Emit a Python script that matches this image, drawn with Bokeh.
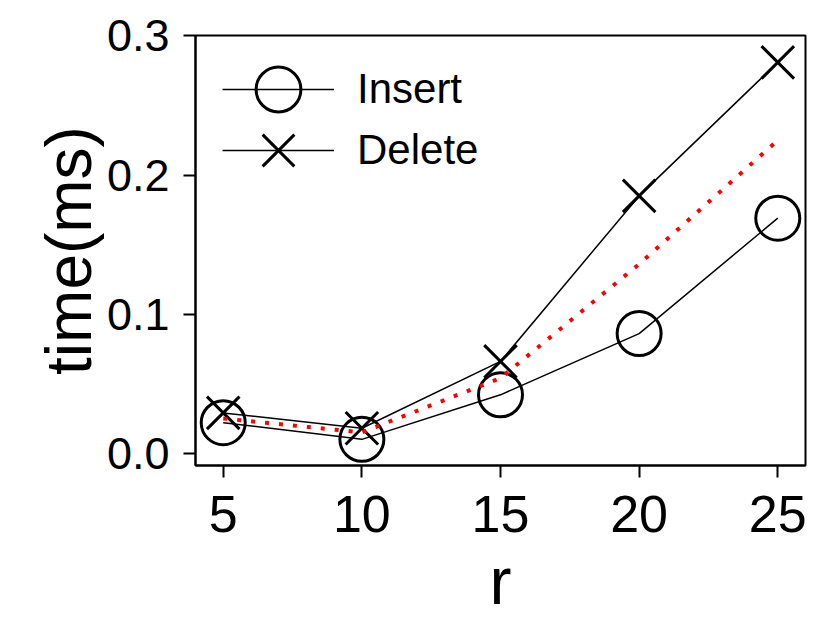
from bokeh.plotting import figure
from bokeh.models import Range1d, FixedTicker, NumeralTickFormatter, Legend, LegendItem
from bokeh.embed import file_html
from bokeh.resources import INLINE

# data
r = [5, 10, 15, 20, 25]
insert_ms = [0.022, 0.010, 0.042, 0.086, 0.169]
delete_ms = [0.029, 0.018, 0.066, 0.185, 0.281]
trend_ms = [0.025, 0.015, 0.054, 0.136, 0.225]
x_ticks = [5, 10, 15, 20, 25]
y_ticks = [0.0, 0.1, 0.2, 0.3]

FONT = "Liberation Sans"

p = figure(width=816, height=620, output_backend="svg", toolbar_location=None,
           x_range=Range1d(4, 26), y_range=Range1d(-0.0088, 0.3003),
           min_border_left=195, min_border_right=11, min_border_top=35,
           min_border_bottom=147)

p.grid.visible = False
p.background_fill_color = "white"
p.border_fill_color = "white"
p.outline_line_color = "black"
p.outline_line_width = 2

for ax in (p.xaxis[0], p.yaxis[0]):
    ax.axis_line_width = 2
    ax.major_tick_line_width = 2
    ax.major_tick_out = 12
    ax.major_tick_in = 0
    ax.minor_tick_out = 0
    ax.minor_tick_in = 0
    ax.major_label_text_font = FONT
    ax.axis_label_text_font = FONT
    ax.axis_label_text_font_style = "normal"
    ax.major_label_text_color = "black"
    ax.axis_label_text_color = "black"

p.xaxis.ticker = FixedTicker(ticks=x_ticks)
p.yaxis.ticker = FixedTicker(ticks=y_ticks)
p.yaxis.formatter = NumeralTickFormatter(format="0.0")

p.xaxis.axis_label = "r"
p.yaxis.axis_label = "time(ms)"
p.xaxis.major_label_text_font_size = "52px"
p.yaxis.major_label_text_font_size = "45px"
p.xaxis.axis_label_text_font_size = "66px"
p.yaxis.axis_label_text_font_size = "64px"
p.xaxis.major_label_standoff = 18
p.yaxis.major_label_standoff = 14
p.xaxis.axis_label_standoff = 9
p.yaxis.axis_label_standoff = -1

l_ins = p.line(r, insert_ms, line_color="black", line_width=1.5)
s_ins = p.scatter(r, insert_ms, marker="circle", size=44, fill_alpha=0,
                  line_color="black", line_width=3)
l_del = p.line(r, delete_ms, line_color="black", line_width=1.5)
s_del = p.scatter(r, delete_ms, marker="x", size=46,
                  line_color="black", line_width=3)
p.line(r, trend_ms, line_color="red", line_width=4, line_dash="4 10")

common = dict(glyph_width=112, glyph_height=114, padding=0, margin=0,
              label_standoff=23, label_text_font=FONT, label_text_font_size="42px",
              label_text_color="black",
              background_fill_alpha=0, border_line_alpha=0)
leg1 = Legend(items=[LegendItem(label="Insert", renderers=[l_ins, s_ins])],
              location=(27, 319), **common)
leg2 = Legend(items=[LegendItem(label="Delete", renderers=[l_del, s_del])],
              location=(27, 258), **common)
p.add_layout(leg1)
p.add_layout(leg2)

open("out.html", "w").write(file_html(p, INLINE))
